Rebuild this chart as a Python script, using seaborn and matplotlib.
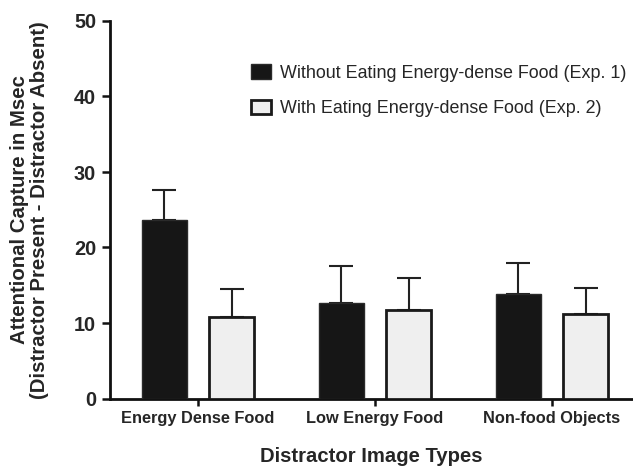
import matplotlib
matplotlib.use("Agg")
import matplotlib.pyplot as plt
import seaborn as sns
import pandas as pd
import numpy as np
from matplotlib.patches import Patch

categories = ["Energy Dense Food", "Low Energy Food", "Non-food Objects"]
groups = ["Without Eating Energy-dense Food (Exp. 1)", "With Eating Energy-dense Food (Exp. 2)"]
exp1_means = [23.6, 12.7, 13.8]
exp1_errs = [4.0, 4.9, 4.2]
exp2_means = [10.8, 11.7, 11.2]
exp2_errs = [3.7, 4.3, 3.5]

rows = []
for g, means, errs in [(groups[0], exp1_means, exp1_errs), (groups[1], exp2_means, exp2_errs)]:
    for c, m, e in zip(categories, means, errs):
        rows.append({"category": c, "group": g, "value": m, "err": e})
df = pd.DataFrame(rows)

sns.set_style("ticks")
plt.rcParams["font.family"] = ["Liberation Sans", "DejaVu Sans"]

fig = plt.figure(figsize=(6.33, 4.69), dpi=100)
ax = fig.add_axes([110 / 633, 1 - 398.5 / 469, 1 - 110 / 633, (398.5 - 21) / 469])

colors = {groups[0]: "#161616", groups[1]: "#efefef"}
sns.barplot(data=df, x="category", y="value", hue="group", order=categories,
            hue_order=groups, palette=colors, width=0.76, gap=0.33,
            errorbar=None, ax=ax, legend=False, zorder=3)

# style bars and add upper-only error bars using the library's bar positions
containers = list(ax.containers)
for gi, cont in enumerate(containers):
    g = groups[gi]
    sub = df[df["group"] == g].set_index("category").loc[categories]
    for bar, (_, r) in zip(cont, sub.iterrows()):
        if gi == 0:
            bar.set_edgecolor("#2a2a2a")
            bar.set_linewidth(1.0)
        else:
            bar.set_edgecolor("#1a1a1a")
            bar.set_linewidth(2.0)
        xc = bar.get_x() + bar.get_width() / 2
        top = bar.get_height()
        ax.errorbar([xc], [top], yerr=[[0], [r["err"]]], fmt="none",
                    ecolor="#222222", elinewidth=1.5, capsize=8.5,
                    capthick=1.5, zorder=2)

ax.set_ylim(0, 50)
ax.set_xlim(-0.497, 2.458)
ax.set_yticks([0, 10, 20, 30, 40, 50])
ax.spines["top"].set_visible(False)
ax.spines["right"].set_visible(False)
ax.spines["left"].set_linewidth(2)
ax.spines["bottom"].set_linewidth(2)
ax.spines["left"].set_color("#111111")
ax.spines["bottom"].set_color("#111111")

ax.tick_params(axis="y", length=6, width=1.8, pad=4, labelsize=14.3, color="#111111")
ax.tick_params(axis="x", length=5, width=1.8, pad=4, labelsize=11.8, color="#111111")
for lab in ax.get_yticklabels() + ax.get_xticklabels():
    lab.set_fontweight("bold")

ax.set_xlabel("Distractor Image Types", fontsize=14.6, fontweight="bold", labelpad=15)
ax.set_ylabel("Attentional Capture in Msec\n(Distractor Present - Distractor Absent)",
              fontsize=14.7, fontweight="bold", labelpad=18, linespacing=1.05)

handles = [Patch(facecolor=colors[groups[0]], edgecolor="#2a2a2a", linewidth=1.0),
           Patch(facecolor=colors[groups[1]], edgecolor="#1a1a1a", linewidth=2.0)]
leg = ax.legend(handles, groups, loc="upper left", bbox_to_anchor=(0.256, 0.905),
                frameon=False, fontsize=12.9, handlelength=1.1, handleheight=0.9,
                handletextpad=0.5, labelspacing=1.0, borderaxespad=0)

fig.savefig("out.png", dpi=100)
